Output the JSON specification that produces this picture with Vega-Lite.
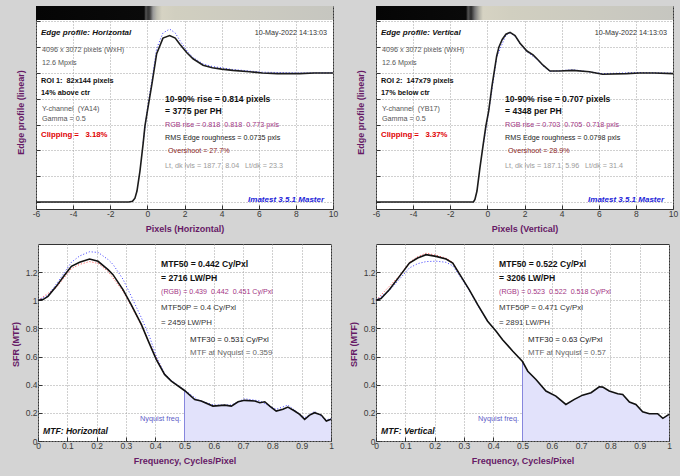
{
"$schema":"https://vega.github.io/schema/vega-lite/v6.json",
"background":"#d4d4d4",
"padding":{"left":10,"top":5,"right":2,"bottom":12},
"autosize":{"type":"pad"},
"datasets":{
"edgeH":[
{"pixel":-6,"edge":0,"ch":"Y"},{"pixel":-4,"edge":0,"ch":"Y"},{"pixel":-2,"edge":0,"ch":"Y"},{"pixel":-1,"edge":0,"ch":"Y"},{"pixel":-0.8,"edge":0.005,"ch":"Y"},{"pixel":-0.67,"edge":0.03,"ch":"Y"},{"pixel":-0.56,"edge":0.085,"ch":"Y"},{"pixel":-0.4,"edge":0.24,"ch":"Y"},{"pixel":-0.23,"edge":0.45,"ch":"Y"},{"pixel":-0.13,"edge":0.59,"ch":"Y"},{"pixel":0,"edge":0.705,"ch":"Y"},{"pixel":0.25,"edge":0.92,"ch":"Y"},{"pixel":0.5,"edge":1.15,"ch":"Y"},{"pixel":0.84,"edge":1.27,"ch":"Y"},{"pixel":1.2,"edge":1.29,"ch":"Y"},{"pixel":1.5,"edge":1.27,"ch":"Y"},{"pixel":1.76,"edge":1.22,"ch":"Y"},{"pixel":2.14,"edge":1.155,"ch":"Y"},{"pixel":2.46,"edge":1.11,"ch":"Y"},{"pixel":3.0,"edge":1.06,"ch":"Y"},{"pixel":3.5,"edge":1.04,"ch":"Y"},{"pixel":4.0,"edge":1.03,"ch":"Y"},{"pixel":4.6,"edge":1.02,"ch":"Y"},{"pixel":5.5,"edge":1.01,"ch":"Y"},{"pixel":6.2,"edge":1.0,"ch":"Y"},{"pixel":7.0,"edge":0.995,"ch":"Y"},{"pixel":8.2,"edge":0.995,"ch":"Y"},{"pixel":9.0,"edge":1.0,"ch":"Y"},{"pixel":10,"edge":1.0,"ch":"Y"},
{"pixel":-0.23,"edge":0.46,"ch":"B"},{"pixel":0,"edge":0.72,"ch":"B"},{"pixel":0.25,"edge":0.95,"ch":"B"},{"pixel":0.5,"edge":1.19,"ch":"B"},{"pixel":0.84,"edge":1.31,"ch":"B"},{"pixel":1.2,"edge":1.34,"ch":"B"},{"pixel":1.5,"edge":1.31,"ch":"B"},{"pixel":1.76,"edge":1.25,"ch":"B"},{"pixel":2.14,"edge":1.17,"ch":"B"},{"pixel":2.46,"edge":1.12,"ch":"B"},{"pixel":3.0,"edge":1.07,"ch":"B"},{"pixel":3.5,"edge":1.05,"ch":"B"},{"pixel":4.6,"edge":1.027,"ch":"B"},{"pixel":6.2,"edge":1.006,"ch":"B"},{"pixel":8.2,"edge":1.0,"ch":"B"},{"pixel":10,"edge":1.002,"ch":"B"}
],
"edgeV":[
{"pixel":-6,"edge":0,"ch":"Y"},{"pixel":-4,"edge":0,"ch":"Y"},{"pixel":-2,"edge":0,"ch":"Y"},{"pixel":-0.75,"edge":0,"ch":"Y"},{"pixel":-0.67,"edge":0.02,"ch":"Y"},{"pixel":-0.56,"edge":0.085,"ch":"Y"},{"pixel":-0.4,"edge":0.266,"ch":"Y"},{"pixel":-0.22,"edge":0.45,"ch":"Y"},{"pixel":-0.08,"edge":0.59,"ch":"Y"},{"pixel":0.07,"edge":0.705,"ch":"Y"},{"pixel":0.25,"edge":0.9,"ch":"Y"},{"pixel":0.5,"edge":1.13,"ch":"Y"},{"pixel":0.62,"edge":1.2,"ch":"Y"},{"pixel":0.8,"edge":1.26,"ch":"Y"},{"pixel":1.0,"edge":1.3,"ch":"Y"},{"pixel":1.22,"edge":1.315,"ch":"Y"},{"pixel":1.49,"edge":1.29,"ch":"Y"},{"pixel":1.76,"edge":1.23,"ch":"Y"},{"pixel":2.13,"edge":1.17,"ch":"Y"},{"pixel":2.46,"edge":1.14,"ch":"Y"},{"pixel":2.67,"edge":1.11,"ch":"Y"},{"pixel":3.0,"edge":1.06,"ch":"Y"},{"pixel":3.37,"edge":1.015,"ch":"Y"},{"pixel":3.9,"edge":1.015,"ch":"Y"},{"pixel":4.6,"edge":1.02,"ch":"Y"},{"pixel":5.5,"edge":1.01,"ch":"Y"},{"pixel":6.2,"edge":0.99,"ch":"Y"},{"pixel":7.5,"edge":0.995,"ch":"Y"},{"pixel":8.2,"edge":1.0,"ch":"Y"},{"pixel":9.0,"edge":1.0,"ch":"Y"},{"pixel":10,"edge":0.995,"ch":"Y"},
{"pixel":-0.22,"edge":0.44,"ch":"B"},{"pixel":0.07,"edge":0.7,"ch":"B"},{"pixel":0.5,"edge":1.12,"ch":"B"},{"pixel":1.0,"edge":1.295,"ch":"B"},{"pixel":1.22,"edge":1.31,"ch":"B"},{"pixel":1.49,"edge":1.285,"ch":"B"},{"pixel":1.76,"edge":1.225,"ch":"B"},{"pixel":2.13,"edge":1.165,"ch":"B"},{"pixel":2.67,"edge":1.105,"ch":"B"},{"pixel":3.0,"edge":1.055,"ch":"B"},{"pixel":3.37,"edge":1.012,"ch":"B"},{"pixel":4.6,"edge":1.025,"ch":"B"},{"pixel":6.2,"edge":0.995,"ch":"B"},{"pixel":8.2,"edge":1.003,"ch":"B"},{"pixel":10,"edge":0.998,"ch":"B"}
],
"mtfH":[
{"freq":0,"mtf":1.0,"ch":"Y"},{"freq":0.017,"mtf":1.005,"ch":"Y"},{"freq":0.034,"mtf":1.028,"ch":"Y"},{"freq":0.0625,"mtf":1.099,"ch":"Y"},{"freq":0.091,"mtf":1.18,"ch":"Y"},{"freq":0.114,"mtf":1.241,"ch":"Y"},{"freq":0.142,"mtf":1.27,"ch":"Y"},{"freq":0.176,"mtf":1.293,"ch":"Y"},{"freq":0.205,"mtf":1.277,"ch":"Y"},{"freq":0.239,"mtf":1.218,"ch":"Y"},{"freq":0.256,"mtf":1.182,"ch":"Y"},{"freq":0.29,"mtf":1.076,"ch":"Y"},{"freq":0.318,"mtf":0.969,"ch":"Y"},{"freq":0.353,"mtf":0.827,"ch":"Y"},{"freq":0.378,"mtf":0.703,"ch":"Y"},{"freq":0.404,"mtf":0.579,"ch":"Y"},{"freq":0.432,"mtf":0.473,"ch":"Y"},{"freq":0.455,"mtf":0.426,"ch":"Y"},{"freq":0.5,"mtf":0.359,"ch":"Y"},{"freq":0.535,"mtf":0.295,"ch":"Y"},{"freq":0.557,"mtf":0.285,"ch":"Y"},{"freq":0.597,"mtf":0.248,"ch":"Y"},{"freq":0.637,"mtf":0.255,"ch":"Y"},{"freq":0.66,"mtf":0.248,"ch":"Y"},{"freq":0.683,"mtf":0.279,"ch":"Y"},{"freq":0.705,"mtf":0.289,"ch":"Y"},{"freq":0.74,"mtf":0.284,"ch":"Y"},{"freq":0.757,"mtf":0.272,"ch":"Y"},{"freq":0.774,"mtf":0.279,"ch":"Y"},{"freq":0.791,"mtf":0.248,"ch":"Y"},{"freq":0.813,"mtf":0.213,"ch":"Y"},{"freq":0.836,"mtf":0.225,"ch":"Y"},{"freq":0.853,"mtf":0.241,"ch":"Y"},{"freq":0.876,"mtf":0.213,"ch":"Y"},{"freq":0.893,"mtf":0.189,"ch":"Y"},{"freq":0.91,"mtf":0.154,"ch":"Y"},{"freq":0.927,"mtf":0.184,"ch":"Y"},{"freq":0.944,"mtf":0.201,"ch":"Y"},{"freq":0.967,"mtf":0.184,"ch":"Y"},{"freq":0.984,"mtf":0.142,"ch":"Y"},{"freq":1.0,"mtf":0.154,"ch":"Y"},
{"freq":0,"mtf":1.0,"ch":"B"},{"freq":0.034,"mtf":1.035,"ch":"B"},{"freq":0.0625,"mtf":1.115,"ch":"B"},{"freq":0.091,"mtf":1.2,"ch":"B"},{"freq":0.114,"mtf":1.27,"ch":"B"},{"freq":0.142,"mtf":1.315,"ch":"B"},{"freq":0.176,"mtf":1.345,"ch":"B"},{"freq":0.205,"mtf":1.34,"ch":"B"},{"freq":0.239,"mtf":1.29,"ch":"B"},{"freq":0.256,"mtf":1.255,"ch":"B"},{"freq":0.29,"mtf":1.15,"ch":"B"},{"freq":0.318,"mtf":1.03,"ch":"B"},{"freq":0.353,"mtf":0.875,"ch":"B"},{"freq":0.381,"mtf":0.74,"ch":"B"},{"freq":0.404,"mtf":0.6,"ch":"B"},{"freq":0.432,"mtf":0.48,"ch":"B"},{"freq":0.455,"mtf":0.43,"ch":"B"},{"freq":0.5,"mtf":0.362,"ch":"B"},{"freq":0.546,"mtf":0.292,"ch":"B"},{"freq":0.6,"mtf":0.255,"ch":"B"},{"freq":0.66,"mtf":0.256,"ch":"B"},{"freq":0.705,"mtf":0.3,"ch":"B"},{"freq":0.757,"mtf":0.285,"ch":"B"},{"freq":0.813,"mtf":0.225,"ch":"B"},{"freq":0.853,"mtf":0.255,"ch":"B"},{"freq":0.91,"mtf":0.165,"ch":"B"},{"freq":0.944,"mtf":0.21,"ch":"B"},{"freq":0.984,"mtf":0.15,"ch":"B"},{"freq":1.0,"mtf":0.16,"ch":"B"},
{"freq":0,"mtf":1.0,"ch":"R"},{"freq":0.0625,"mtf":1.09,"ch":"R"},{"freq":0.114,"mtf":1.225,"ch":"R"},{"freq":0.142,"mtf":1.255,"ch":"R"},{"freq":0.176,"mtf":1.275,"ch":"R"},{"freq":0.205,"mtf":1.262,"ch":"R"},{"freq":0.239,"mtf":1.205,"ch":"R"},{"freq":0.29,"mtf":1.065,"ch":"R"},{"freq":0.318,"mtf":0.96,"ch":"R"},{"freq":0.353,"mtf":0.82,"ch":"R"},{"freq":0.381,"mtf":0.69,"ch":"R"},{"freq":0.432,"mtf":0.47,"ch":"R"}
],
"mtfV":[
{"freq":0,"mtf":1.0,"ch":"Y"},{"freq":0.017,"mtf":1.012,"ch":"Y"},{"freq":0.046,"mtf":1.076,"ch":"Y"},{"freq":0.08,"mtf":1.17,"ch":"Y"},{"freq":0.114,"mtf":1.265,"ch":"Y"},{"freq":0.142,"mtf":1.3,"ch":"Y"},{"freq":0.171,"mtf":1.324,"ch":"Y"},{"freq":0.205,"mtf":1.312,"ch":"Y"},{"freq":0.239,"mtf":1.293,"ch":"Y"},{"freq":0.262,"mtf":1.265,"ch":"Y"},{"freq":0.29,"mtf":1.17,"ch":"Y"},{"freq":0.318,"mtf":1.076,"ch":"Y"},{"freq":0.347,"mtf":0.969,"ch":"Y"},{"freq":0.381,"mtf":0.851,"ch":"Y"},{"freq":0.41,"mtf":0.78,"ch":"Y"},{"freq":0.432,"mtf":0.72,"ch":"Y"},{"freq":0.467,"mtf":0.638,"ch":"Y"},{"freq":0.5,"mtf":0.565,"ch":"Y"},{"freq":0.518,"mtf":0.496,"ch":"Y"},{"freq":0.546,"mtf":0.437,"ch":"Y"},{"freq":0.58,"mtf":0.355,"ch":"Y"},{"freq":0.614,"mtf":0.319,"ch":"Y"},{"freq":0.648,"mtf":0.26,"ch":"Y"},{"freq":0.677,"mtf":0.296,"ch":"Y"},{"freq":0.705,"mtf":0.326,"ch":"Y"},{"freq":0.734,"mtf":0.343,"ch":"Y"},{"freq":0.762,"mtf":0.385,"ch":"Y"},{"freq":0.774,"mtf":0.383,"ch":"Y"},{"freq":0.796,"mtf":0.355,"ch":"Y"},{"freq":0.825,"mtf":0.336,"ch":"Y"},{"freq":0.842,"mtf":0.33,"ch":"Y"},{"freq":0.865,"mtf":0.277,"ch":"Y"},{"freq":0.887,"mtf":0.26,"ch":"Y"},{"freq":0.91,"mtf":0.208,"ch":"Y"},{"freq":0.933,"mtf":0.194,"ch":"Y"},{"freq":0.961,"mtf":0.194,"ch":"Y"},{"freq":0.979,"mtf":0.161,"ch":"Y"},{"freq":1.0,"mtf":0.189,"ch":"Y"},
{"freq":0,"mtf":1.0,"ch":"B"},{"freq":0.046,"mtf":1.07,"ch":"B"},{"freq":0.08,"mtf":1.15,"ch":"B"},{"freq":0.114,"mtf":1.23,"ch":"B"},{"freq":0.142,"mtf":1.26,"ch":"B"},{"freq":0.171,"mtf":1.275,"ch":"B"},{"freq":0.205,"mtf":1.278,"ch":"B"},{"freq":0.239,"mtf":1.27,"ch":"B"},{"freq":0.262,"mtf":1.245,"ch":"B"},{"freq":0.29,"mtf":1.16,"ch":"B"},{"freq":0.318,"mtf":1.07,"ch":"B"},{"freq":0.347,"mtf":0.965,"ch":"B"},{"freq":0.381,"mtf":0.85,"ch":"B"},
{"freq":0,"mtf":1.0,"ch":"R"},{"freq":0.08,"mtf":1.175,"ch":"R"},{"freq":0.114,"mtf":1.27,"ch":"R"},{"freq":0.142,"mtf":1.31,"ch":"R"},{"freq":0.171,"mtf":1.335,"ch":"R"},{"freq":0.205,"mtf":1.32,"ch":"R"},{"freq":0.239,"mtf":1.3,"ch":"R"},{"freq":0.262,"mtf":1.27,"ch":"R"},{"freq":0.29,"mtf":1.172,"ch":"R"}
],
"annTH":[
{"x":-5.73,"y":1.31,"t":"Edge profile: Horizontal","k":"title"},
{"x":9.68,"y":1.31,"t":"10-May-2022 14:13:03","k":"date"},
{"x":-5.68,"y":1.178,"t":"4096 x 3072 pixels (WxH)","k":"gray"},
{"x":-5.68,"y":1.078,"t":"12.6 Mpxls","k":"gray"},
{"x":-5.73,"y":0.938,"t":"ROI 1:\u00a0 82x144 pixels","k":"roi"},
{"x":-5.73,"y":0.845,"t":"14% above ctr","k":"roi"},
{"x":-5.68,"y":0.721,"t":"Y-channel\u00a0 (YA14)","k":"gray"},
{"x":-5.68,"y":0.643,"t":"Gamma = 0.5","k":"gray"},
{"x":-5.73,"y":0.519,"t":"Clipping =\u00a0\u00a0 3.18%","k":"clip"},
{"x":0.95,"y":0.798,"t":"10-90% rise = 0.814 pixels","k":"rise"},
{"x":0.95,"y":0.705,"t":"= 3775 per PH","k":"rise"},
{"x":0.95,"y":0.597,"t":"RGB rise = 0.818\u00a0 0.818\u00a0 0.773 pxls","k":"rgb"},
{"x":0.95,"y":0.496,"t":"RMS Edge roughness = 0.0735 pxls","k":"rms"},
{"x":1.11,"y":0.395,"t":"Overshoot = 27.7%","k":"over"},
{"x":0.95,"y":0.279,"t":"Lt, dk lvls = 187.7, 8.04\u00a0\u00a0 Lt/dk = 23.3","k":"lt"},
{"x":9.52,"y":0.0155,"t":"Imatest 3.5.1 Master","k":"ima"}
],
"annTV":[
{"x":-5.73,"y":1.31,"t":"Edge profile: Vertical","k":"title"},
{"x":9.68,"y":1.31,"t":"10-May-2022 14:13:03","k":"date"},
{"x":-5.68,"y":1.178,"t":"4096 x 3072 pixels (WxH)","k":"gray"},
{"x":-5.68,"y":1.078,"t":"12.6 Mpxls","k":"gray"},
{"x":-5.73,"y":0.938,"t":"ROI 2:\u00a0 147x79 pixels","k":"roi"},
{"x":-5.73,"y":0.845,"t":"17% below ctr","k":"roi"},
{"x":-5.68,"y":0.721,"t":"Y-channel\u00a0 (YB17)","k":"gray"},
{"x":-5.68,"y":0.643,"t":"Gamma = 0.5","k":"gray"},
{"x":-5.73,"y":0.519,"t":"Clipping =\u00a0\u00a0 3.37%","k":"clip"},
{"x":0.95,"y":0.798,"t":"10-90% rise = 0.707 pixels","k":"rise"},
{"x":0.95,"y":0.705,"t":"= 4348 per PH","k":"rise"},
{"x":0.95,"y":0.597,"t":"RGB rise = 0.703\u00a0 0.705\u00a0 0.718 pxls","k":"rgb"},
{"x":0.95,"y":0.496,"t":"RMS Edge roughness = 0.0798 pxls","k":"rms"},
{"x":1.11,"y":0.395,"t":"Overshoot = 28.9%","k":"over"},
{"x":0.95,"y":0.279,"t":"Lt, dk lvls = 187.1, 5.96\u00a0\u00a0 Lt/dk = 31.4","k":"lt"},
{"x":9.52,"y":0.0155,"t":"Imatest 3.5.1 Master","k":"ima"}
],
"annBH":[
{"x":0.42,"y":1.255,"t":"MTF50 = 0.442 Cy/Pxl","k":"m50"},
{"x":0.42,"y":1.156,"t":"= 2716 LW/PH","k":"m50"},
{"x":0.42,"y":1.059,"t":"(RGB) = 0.439\u00a0 0.442\u00a0 0.451 Cy/Pxl","k":"rgb"},
{"x":0.42,"y":0.945,"t":"MTF50P = 0.4 Cy/Pxl","k":"m50p"},
{"x":0.42,"y":0.84,"t":"= 2459 LW/PH","k":"m50p"},
{"x":0.519,"y":0.721,"t":"MTF30 = 0.531 Cy/Pxl","k":"m30"},
{"x":0.519,"y":0.624,"t":"MTF at Nyquist = 0.359","k":"nyq"},
{"x":0.488,"y":0.156,"t":"Nyquist freq.","k":"nyqf"},
{"x":0.017,"y":0.071,"t":"MTF: Horizontal","k":"mtit"}
],
"annBV":[
{"x":0.42,"y":1.255,"t":"MTF50 = 0.522 Cy/Pxl","k":"m50"},
{"x":0.42,"y":1.156,"t":"= 3206 LW/PH","k":"m50"},
{"x":0.42,"y":1.059,"t":"(RGB) = 0.523\u00a0 0.522\u00a0 0.518 Cy/Pxl","k":"rgb"},
{"x":0.42,"y":0.945,"t":"MTF50P = 0.471 Cy/Pxl","k":"m50p"},
{"x":0.42,"y":0.84,"t":"= 2891 LW/PH","k":"m50p"},
{"x":0.519,"y":0.721,"t":"MTF30 = 0.63 Cy/Pxl","k":"m30"},
{"x":0.519,"y":0.624,"t":"MTF at Nyquist = 0.57","k":"nyq"},
{"x":0.488,"y":0.156,"t":"Nyquist freq.","k":"nyqf"},
{"x":0.017,"y":0.071,"t":"MTF: Vertical","k":"mtit"}
]
},
"columns":2,
"spacing":{"row":35,"column":43},
"bounds":"flush",
"center":true,
"resolve":{"scale":{"color":"independent"}},
"concat":[
{"width":297,"height":203,
"layer":[
{"data":{"values":[{"bar":1}]},"mark":{"type":"rect","fill":{"gradient":"linear","x1":0,"y1":0,"x2":1,"y2":0,"stops":[{"offset":0,"color":"#050505"},{"offset":0.364,"color":"#0a0a0a"},{"offset":0.37,"color":"#555555"},{"offset":0.377,"color":"#333333"},{"offset":0.384,"color":"#444444"},{"offset":0.394,"color":"#999999"},{"offset":0.407,"color":"#bdbcb0"},{"offset":0.424,"color":"#d6d3c3"},{"offset":0.468,"color":"#d1cfc0"},{"offset":1,"color":"#c6c6c0"}]}},
"encoding":{"x":{"datum":-6,"type":"quantitative"},"x2":{"datum":10},"y":{"datum":1.41,"type":"quantitative"},"y2":{"datum":1.519}}},
{"data":{"name":"edgeH"},"transform":[{"filter":"datum.ch=='B'"}],"mark":{"type":"line","stroke":"#3a3aff","strokeWidth":1,"strokeDash":[1,2]},"encoding":{"x":{"field":"pixel","type":"quantitative"},"y":{"field":"edge","type":"quantitative"}}},
{"data":{"name":"edgeH"},"transform":[{"filter":"datum.ch=='Y'"}],"mark":{"type":"line","stroke":"#1c1c1c","strokeWidth":1.6},
"encoding":{"x":{"field":"pixel","type":"quantitative","scale":{"domain":[-6,10],"nice":false,"zero":false},"axis":{"values":[-6,-4,-2,0,2,4,6,8,10],"tickCount":40,"labelExpr":"'' + datum.value","labelOverlap":false,"title":"Pixels (Horizontal)","titleY":19,"titleBaseline":"middle"}},
"y":{"field":"edge","type":"quantitative","scale":{"domain":[-0.0543,1.519],"nice":false,"zero":false},"axis":{"values":[0,0.2,0.4,0.6,0.8,1,1.2,1.4],"tickCount":40,"labels":false,"title":"Edge profile (linear)","titleX":-16,"titleY":106,"titleBaseline":"middle","titleAlign":"center","titleAngle":270}}}},
{"data":{"name":"annTH"},"transform":[{"filter":{"field":"k","oneOf":["gray","rgb","rms","over","lt"]}}],"mark":{"type":"text","align":"left","fontSize":7.2},"encoding":{"x":{"field":"x","type":"quantitative"},"y":{"field":"y","type":"quantitative"},"text":{"field":"t","type":"nominal"},"color":{"field":"k","type":"nominal","legend":null,"scale":{"domain":["title","date","gray","roi","clip","rise","rgb","rms","over","lt","ima"],"range":["#111111","#333333","#555555","#111111","#e00000","#111111","#a33584","#222222","#8b1c1c","#9a9a9a","#1c1cd8"]}}}},
{"data":{"name":"annTH"},"transform":[{"filter":"datum.k=='date'"}],"mark":{"type":"text","align":"right","fontSize":7.2},"encoding":{"x":{"field":"x","type":"quantitative"},"y":{"field":"y","type":"quantitative"},"text":{"field":"t","type":"nominal"},"color":{"field":"k","type":"nominal","legend":null}}},
{"data":{"name":"annTH"},"transform":[{"filter":"datum.k=='roi'"}],"mark":{"type":"text","align":"left","fontSize":7.3,"fontWeight":"bold"},"encoding":{"x":{"field":"x","type":"quantitative"},"y":{"field":"y","type":"quantitative"},"text":{"field":"t","type":"nominal"},"color":{"field":"k","type":"nominal","legend":null}}},
{"data":{"name":"annTH"},"transform":[{"filter":"datum.k=='clip'"}],"mark":{"type":"text","align":"left","fontSize":7.8,"fontWeight":"bold"},"encoding":{"x":{"field":"x","type":"quantitative"},"y":{"field":"y","type":"quantitative"},"text":{"field":"t","type":"nominal"},"color":{"field":"k","type":"nominal","legend":null}}},
{"data":{"name":"annTH"},"transform":[{"filter":"datum.k=='rise'"}],"mark":{"type":"text","align":"left","fontSize":8.6,"fontWeight":"bold"},"encoding":{"x":{"field":"x","type":"quantitative"},"y":{"field":"y","type":"quantitative"},"text":{"field":"t","type":"nominal"},"color":{"field":"k","type":"nominal","legend":null}}},
{"data":{"name":"annTH"},"transform":[{"filter":"datum.k=='title'"}],"mark":{"type":"text","align":"left","fontSize":8,"fontWeight":"bold","fontStyle":"italic"},"encoding":{"x":{"field":"x","type":"quantitative"},"y":{"field":"y","type":"quantitative"},"text":{"field":"t","type":"nominal"},"color":{"field":"k","type":"nominal","legend":null}}},
{"data":{"name":"annTH"},"transform":[{"filter":"datum.k=='ima'"}],"mark":{"type":"text","align":"right","fontSize":8,"fontWeight":"bold","fontStyle":"italic"},"encoding":{"x":{"field":"x","type":"quantitative"},"y":{"field":"y","type":"quantitative"},"text":{"field":"t","type":"nominal"},"color":{"field":"k","type":"nominal","legend":null}}}
]},
{"width":297,"height":203,
"layer":[
{"data":{"values":[{"bar":1}]},"mark":{"type":"rect","fill":{"gradient":"linear","x1":0,"y1":0,"x2":1,"y2":0,"stops":[{"offset":0,"color":"#050505"},{"offset":0.303,"color":"#0a0a0a"},{"offset":0.31,"color":"#555555"},{"offset":0.32,"color":"#2a2a2a"},{"offset":0.333,"color":"#777777"},{"offset":0.347,"color":"#b0afa5"},{"offset":0.36,"color":"#d6d3c3"},{"offset":0.45,"color":"#d1cfc0"},{"offset":1,"color":"#c6c6c0"}]}},
"encoding":{"x":{"datum":-6,"type":"quantitative"},"x2":{"datum":10},"y":{"datum":1.41,"type":"quantitative"},"y2":{"datum":1.519}}},
{"data":{"name":"edgeV"},"transform":[{"filter":"datum.ch=='B'"}],"mark":{"type":"line","stroke":"#3a3aff","strokeWidth":1,"strokeDash":[1,2]},"encoding":{"x":{"field":"pixel","type":"quantitative"},"y":{"field":"edge","type":"quantitative"}}},
{"data":{"name":"edgeV"},"transform":[{"filter":"datum.ch=='Y'"}],"mark":{"type":"line","stroke":"#1c1c1c","strokeWidth":1.6},
"encoding":{"x":{"field":"pixel","type":"quantitative","scale":{"domain":[-6,10],"nice":false,"zero":false},"axis":{"values":[-6,-4,-2,0,2,4,6,8,10],"tickCount":40,"labelExpr":"'' + datum.value","labelOverlap":false,"title":"Pixels (Vertical)","titleY":19,"titleBaseline":"middle"}},
"y":{"field":"edge","type":"quantitative","scale":{"domain":[-0.0543,1.519],"nice":false,"zero":false},"axis":{"values":[0,0.2,0.4,0.6,0.8,1,1.2,1.4],"tickCount":40,"labels":false,"title":"Edge profile (linear)","titleX":-16,"titleY":106,"titleBaseline":"middle","titleAlign":"center","titleAngle":270}}}},
{"data":{"name":"annTV"},"transform":[{"filter":{"field":"k","oneOf":["gray","rgb","rms","over","lt"]}}],"mark":{"type":"text","align":"left","fontSize":7.2},"encoding":{"x":{"field":"x","type":"quantitative"},"y":{"field":"y","type":"quantitative"},"text":{"field":"t","type":"nominal"},"color":{"field":"k","type":"nominal","legend":null,"scale":{"domain":["title","date","gray","roi","clip","rise","rgb","rms","over","lt","ima"],"range":["#111111","#333333","#555555","#111111","#e00000","#111111","#a33584","#222222","#8b1c1c","#9a9a9a","#1c1cd8"]}}}},
{"data":{"name":"annTV"},"transform":[{"filter":"datum.k=='date'"}],"mark":{"type":"text","align":"right","fontSize":7.2},"encoding":{"x":{"field":"x","type":"quantitative"},"y":{"field":"y","type":"quantitative"},"text":{"field":"t","type":"nominal"},"color":{"field":"k","type":"nominal","legend":null}}},
{"data":{"name":"annTV"},"transform":[{"filter":"datum.k=='roi'"}],"mark":{"type":"text","align":"left","fontSize":7.3,"fontWeight":"bold"},"encoding":{"x":{"field":"x","type":"quantitative"},"y":{"field":"y","type":"quantitative"},"text":{"field":"t","type":"nominal"},"color":{"field":"k","type":"nominal","legend":null}}},
{"data":{"name":"annTV"},"transform":[{"filter":"datum.k=='clip'"}],"mark":{"type":"text","align":"left","fontSize":7.8,"fontWeight":"bold"},"encoding":{"x":{"field":"x","type":"quantitative"},"y":{"field":"y","type":"quantitative"},"text":{"field":"t","type":"nominal"},"color":{"field":"k","type":"nominal","legend":null}}},
{"data":{"name":"annTV"},"transform":[{"filter":"datum.k=='rise'"}],"mark":{"type":"text","align":"left","fontSize":8.6,"fontWeight":"bold"},"encoding":{"x":{"field":"x","type":"quantitative"},"y":{"field":"y","type":"quantitative"},"text":{"field":"t","type":"nominal"},"color":{"field":"k","type":"nominal","legend":null}}},
{"data":{"name":"annTV"},"transform":[{"filter":"datum.k=='title'"}],"mark":{"type":"text","align":"left","fontSize":8,"fontWeight":"bold","fontStyle":"italic"},"encoding":{"x":{"field":"x","type":"quantitative"},"y":{"field":"y","type":"quantitative"},"text":{"field":"t","type":"nominal"},"color":{"field":"k","type":"nominal","legend":null}}},
{"data":{"name":"annTV"},"transform":[{"filter":"datum.k=='ima'"}],"mark":{"type":"text","align":"right","fontSize":8,"fontWeight":"bold","fontStyle":"italic"},"encoding":{"x":{"field":"x","type":"quantitative"},"y":{"field":"y","type":"quantitative"},"text":{"field":"t","type":"nominal"},"color":{"field":"k","type":"nominal","legend":null}}}
]},
{"width":293,"height":197,
"layer":[
{"data":{"name":"mtfH"},"transform":[{"filter":"datum.ch=='Y' && datum.freq>=0.5"}],"mark":{"type":"area","fill":"#e2e2fb"},"encoding":{"x":{"field":"freq","type":"quantitative"},"y":{"field":"mtf","type":"quantitative"}}},
{"data":{"name":"mtfH"},"transform":[{"filter":"datum.ch=='Y' && datum.freq==0.5"}],"mark":{"type":"rule","stroke":"#8686dd","strokeWidth":1},"encoding":{"x":{"field":"freq","type":"quantitative"},"y":{"field":"mtf","type":"quantitative"},"y2":{"datum":0}}},
{"data":{"name":"mtfH"},"transform":[{"filter":"datum.ch=='R'"}],"mark":{"type":"line","stroke":"#ff4a4a","strokeWidth":1,"strokeDash":[1,2]},"encoding":{"x":{"field":"freq","type":"quantitative"},"y":{"field":"mtf","type":"quantitative"}}},
{"data":{"name":"mtfH"},"transform":[{"filter":"datum.ch=='B'"}],"mark":{"type":"line","stroke":"#3a3aff","strokeWidth":1,"strokeDash":[1,2]},"encoding":{"x":{"field":"freq","type":"quantitative"},"y":{"field":"mtf","type":"quantitative"}}},
{"data":{"name":"mtfH"},"transform":[{"filter":"datum.ch=='Y'"}],"mark":{"type":"line","stroke":"#111111","strokeWidth":1.6},
"encoding":{"x":{"field":"freq","type":"quantitative","scale":{"domain":[0,1],"nice":false,"zero":false},"axis":{"values":[0,0.1,0.2,0.3,0.4,0.5,0.6,0.7,0.8,0.9,1],"tickCount":40,"format":"~g","labelOverlap":false,"title":"Frequency, Cycles/Pixel","titleY":19.5,"titleBaseline":"middle"}},
"y":{"field":"mtf","type":"quantitative","scale":{"domain":[0,1.4],"nice":false,"zero":false},"axis":{"values":[0,0.2,0.4,0.6,0.8,1,1.2],"tickCount":40,"format":"~g","labelOverlap":false,"labelPadding":5,"title":"SFR (MTF)","titleX":-23,"titleY":100,"titleBaseline":"middle","titleAlign":"center","titleAngle":270}}}},
{"data":{"name":"annBH"},"transform":[{"filter":"datum.k=='m50'"}],"mark":{"type":"text","align":"left","fontSize":8.6,"fontWeight":"bold"},"encoding":{"x":{"field":"x","type":"quantitative"},"y":{"field":"y","type":"quantitative"},"text":{"field":"t","type":"nominal"},"color":{"field":"k","type":"nominal","legend":null,"scale":{"domain":["m50","rgb","m50p","m30","nyq","nyqf","mtit"],"range":["#111111","#a33584","#333333","#222222","#666666","#6060c8","#111111"]}}}},
{"data":{"name":"annBH"},"transform":[{"filter":"datum.k=='rgb'"}],"mark":{"type":"text","align":"left","fontSize":7.1},"encoding":{"x":{"field":"x","type":"quantitative"},"y":{"field":"y","type":"quantitative"},"text":{"field":"t","type":"nominal"},"color":{"field":"k","type":"nominal","legend":null}}},
{"data":{"name":"annBH"},"transform":[{"filter":{"field":"k","oneOf":["m50p","m30","nyq"]}}],"mark":{"type":"text","align":"left","fontSize":7.9},"encoding":{"x":{"field":"x","type":"quantitative"},"y":{"field":"y","type":"quantitative"},"text":{"field":"t","type":"nominal"},"color":{"field":"k","type":"nominal","legend":null}}},
{"data":{"name":"annBH"},"transform":[{"filter":"datum.k=='nyqf'"}],"mark":{"type":"text","align":"right","fontSize":7.3},"encoding":{"x":{"field":"x","type":"quantitative"},"y":{"field":"y","type":"quantitative"},"text":{"field":"t","type":"nominal"},"color":{"field":"k","type":"nominal","legend":null}}},
{"data":{"name":"annBH"},"transform":[{"filter":"datum.k=='mtit'"}],"mark":{"type":"text","align":"left","fontSize":8.6,"fontWeight":"bold","fontStyle":"italic"},"encoding":{"x":{"field":"x","type":"quantitative"},"y":{"field":"y","type":"quantitative"},"text":{"field":"t","type":"nominal"},"color":{"field":"k","type":"nominal","legend":null}}}
]},
{"width":293,"height":197,
"layer":[
{"data":{"name":"mtfV"},"transform":[{"filter":"datum.ch=='Y' && datum.freq>=0.5"}],"mark":{"type":"area","fill":"#e2e2fb"},"encoding":{"x":{"field":"freq","type":"quantitative"},"y":{"field":"mtf","type":"quantitative"}}},
{"data":{"name":"mtfV"},"transform":[{"filter":"datum.ch=='Y' && datum.freq==0.5"}],"mark":{"type":"rule","stroke":"#8686dd","strokeWidth":1},"encoding":{"x":{"field":"freq","type":"quantitative"},"y":{"field":"mtf","type":"quantitative"},"y2":{"datum":0}}},
{"data":{"name":"mtfV"},"transform":[{"filter":"datum.ch=='R'"}],"mark":{"type":"line","stroke":"#ff4a4a","strokeWidth":1,"strokeDash":[1,2]},"encoding":{"x":{"field":"freq","type":"quantitative"},"y":{"field":"mtf","type":"quantitative"}}},
{"data":{"name":"mtfV"},"transform":[{"filter":"datum.ch=='B'"}],"mark":{"type":"line","stroke":"#3a3aff","strokeWidth":1,"strokeDash":[1,2]},"encoding":{"x":{"field":"freq","type":"quantitative"},"y":{"field":"mtf","type":"quantitative"}}},
{"data":{"name":"mtfV"},"transform":[{"filter":"datum.ch=='Y'"}],"mark":{"type":"line","stroke":"#111111","strokeWidth":1.6},
"encoding":{"x":{"field":"freq","type":"quantitative","scale":{"domain":[0,1],"nice":false,"zero":false},"axis":{"values":[0,0.1,0.2,0.3,0.4,0.5,0.6,0.7,0.8,0.9,1],"tickCount":40,"format":"~g","labelOverlap":false,"title":"Frequency, Cycles/Pixel","titleY":19.5,"titleBaseline":"middle"}},
"y":{"field":"mtf","type":"quantitative","scale":{"domain":[0,1.4],"nice":false,"zero":false},"axis":{"values":[0,0.2,0.4,0.6,0.8,1,1.2],"tickCount":40,"format":"~g","labelOverlap":false,"labelPadding":5,"title":"SFR (MTF)","titleX":-23,"titleY":100,"titleBaseline":"middle","titleAlign":"center","titleAngle":270}}}},
{"data":{"name":"annBV"},"transform":[{"filter":"datum.k=='m50'"}],"mark":{"type":"text","align":"left","fontSize":8.6,"fontWeight":"bold"},"encoding":{"x":{"field":"x","type":"quantitative"},"y":{"field":"y","type":"quantitative"},"text":{"field":"t","type":"nominal"},"color":{"field":"k","type":"nominal","legend":null,"scale":{"domain":["m50","rgb","m50p","m30","nyq","nyqf","mtit"],"range":["#111111","#a33584","#333333","#222222","#666666","#6060c8","#111111"]}}}},
{"data":{"name":"annBV"},"transform":[{"filter":"datum.k=='rgb'"}],"mark":{"type":"text","align":"left","fontSize":7.1},"encoding":{"x":{"field":"x","type":"quantitative"},"y":{"field":"y","type":"quantitative"},"text":{"field":"t","type":"nominal"},"color":{"field":"k","type":"nominal","legend":null}}},
{"data":{"name":"annBV"},"transform":[{"filter":{"field":"k","oneOf":["m50p","m30","nyq"]}}],"mark":{"type":"text","align":"left","fontSize":7.9},"encoding":{"x":{"field":"x","type":"quantitative"},"y":{"field":"y","type":"quantitative"},"text":{"field":"t","type":"nominal"},"color":{"field":"k","type":"nominal","legend":null}}},
{"data":{"name":"annBV"},"transform":[{"filter":"datum.k=='nyqf'"}],"mark":{"type":"text","align":"right","fontSize":7.3},"encoding":{"x":{"field":"x","type":"quantitative"},"y":{"field":"y","type":"quantitative"},"text":{"field":"t","type":"nominal"},"color":{"field":"k","type":"nominal","legend":null}}},
{"data":{"name":"annBV"},"transform":[{"filter":"datum.k=='mtit'"}],"mark":{"type":"text","align":"left","fontSize":8.6,"fontWeight":"bold","fontStyle":"italic"},"encoding":{"x":{"field":"x","type":"quantitative"},"y":{"field":"y","type":"quantitative"},"text":{"field":"t","type":"nominal"},"color":{"field":"k","type":"nominal","legend":null}}}
]}
],
"config":{
"font":"Liberation Sans",
"view":{"fill":"white","stroke":"#333333","strokeWidth":1},
"text":{"font":"Liberation Sans","baseline":"middle"},
"axis":{"labelFont":"Liberation Sans","titleFont":"Liberation Sans","labelFontSize":8.5,"labelColor":"#3a3a3a","titleFontSize":9,"titleFontWeight":"bold","titleColor":"#661a66","grid":true,"gridColor":"#a0a0a0","gridDash":[1,2],"domain":false,"tickColor":"#333333","tickSize":-4,"labelPadding":4,"labelOverlap":false,"labelFlush":false}
}
}
